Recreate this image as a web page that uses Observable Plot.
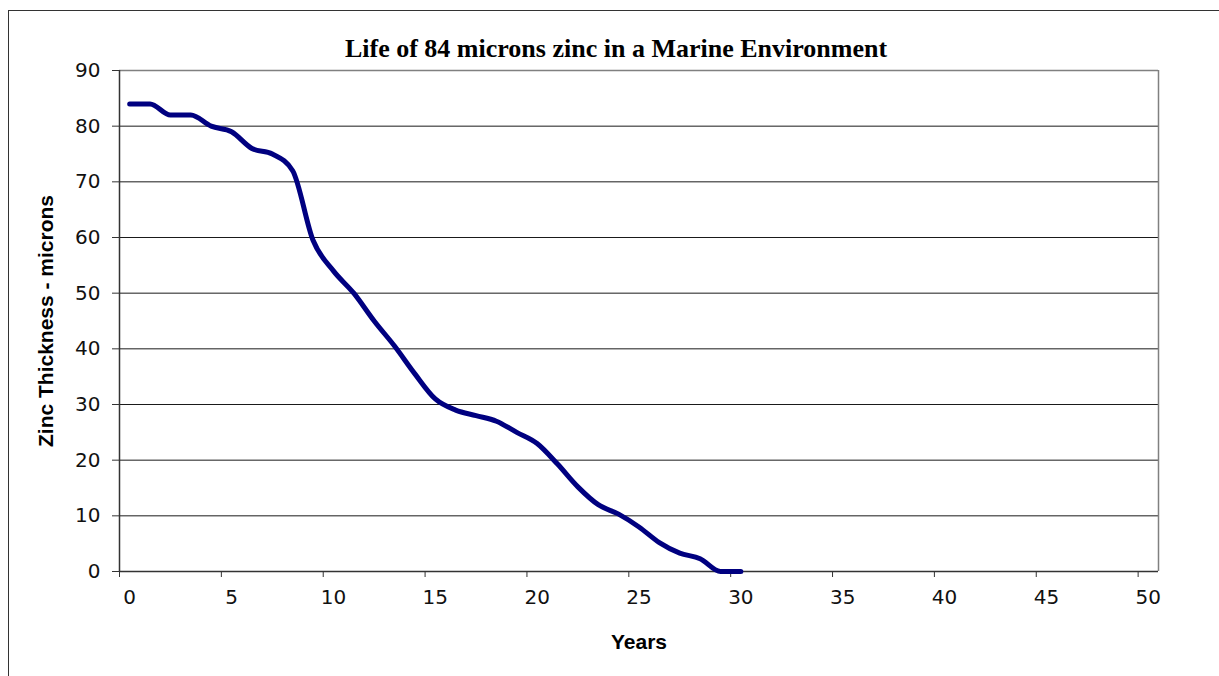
<!DOCTYPE html>
<html><head><meta charset="utf-8">
<script src="https://cdn.jsdelivr.net/npm/d3@7"></script>
<script src="https://cdn.jsdelivr.net/npm/@observablehq/plot@0.6"></script>
<style>
html,body{margin:0;padding:0;background:#fff;overflow:hidden;width:1219px;height:676px;position:relative;}
#frame{position:absolute;left:8px;top:10px;width:1400px;height:900px;border:1.5px solid #333;pointer-events:none;}
#title{height:60px;box-sizing:border-box;padding-top:36px;padding-left:13px;text-align:center;font:bold 26px/26px "Liberation Serif","Times New Roman",serif;color:#000;white-space:nowrap;}
#chart svg{display:block;}
</style></head><body>
<div id="title">Life of 84 microns zinc in a Marine Environment</div>
<div id="chart"></div>
<div id="frame"></div>
<script>
const years = [0,1,2,3,4,5,6,7,8,9,10,11,12,13,14,15,16,17,18,19,20,21,22,23,24,25,26,27,28,29,30];
const thickness = [84,84,82,82,80,79,76,75,72,59.5,54,50,45,40.5,35.5,31,29,28,27,25,23,19.3,15.2,12,10.3,8,5.2,3.3,2.3,0,0];
const xTicks = [0,5,10,15,20,25,30,35,40,45,50];
const yTicks = [0,10,20,30,40,50,60,70,80,90];
const xTitle = "Years";
const yTitle = "Zinc Thickness - microns";

const data = years.map((y, i) => ({year: y, t: thickness[i]}));

const chart = Plot.plot({
  width: 1219, height: 616,
  marginTop: 10, marginBottom: 105, marginLeft: 119, marginRight: 61,
  style: {fontFamily: '"DejaVu Sans", Verdana, sans-serif', fontSize: "20px", color: "#000", background: "transparent", overflow: "visible"},
  x: {domain: [-0.5, 50.5]},
  y: {domain: [0, 90]},
  marks: [
    Plot.ruleY(yTicks.filter(d => d > 0 && d < 90), {stroke: "#1a1a1a", strokeWidth: 1}),
    Plot.ruleY([90], {stroke: "#808080", strokeWidth: 1.5}),
    Plot.ruleX([50.5], {stroke: "#808080", strokeWidth: 1.5}),
    Plot.ruleX([-0.5], {stroke: "#333", strokeWidth: 1.5}),
    Plot.ruleY([0], {stroke: "#333", strokeWidth: 1.5}),
    Plot.axisY({ticks: yTicks, tickSize: 7, tickPadding: 12, label: null, stroke: "#333", fill: "#111"}),
    Plot.axisX({ticks: xTicks.map(d => d - 0.5), tickSize: 6, tickFormat: () => "", label: null, stroke: "#333"}),
    Plot.axisX({ticks: xTicks, tickSize: 0, tickPadding: 18, label: null, fill: "#111"}),
    Plot.text([xTitle], {frameAnchor: "bottom", dy: 77, text: d => d, fontWeight: "bold", fontFamily: '"Liberation Sans", Arial, sans-serif', fontSize: 21, fill: "#000"}),
    Plot.text([yTitle], {frameAnchor: "left", textAnchor: "middle", dx: -73, rotate: -90, text: d => d, fontWeight: "bold", fontFamily: '"Liberation Sans", Arial, sans-serif', fontSize: 21, fill: "#000"}),
    Plot.line(data, {x: "year", y: "t", curve: "monotone-x", stroke: "#000080", strokeWidth: 5, strokeLinecap: "round", strokeLinejoin: "round"})
  ]
});
document.getElementById("chart").appendChild(chart);
</script>
</body></html>
